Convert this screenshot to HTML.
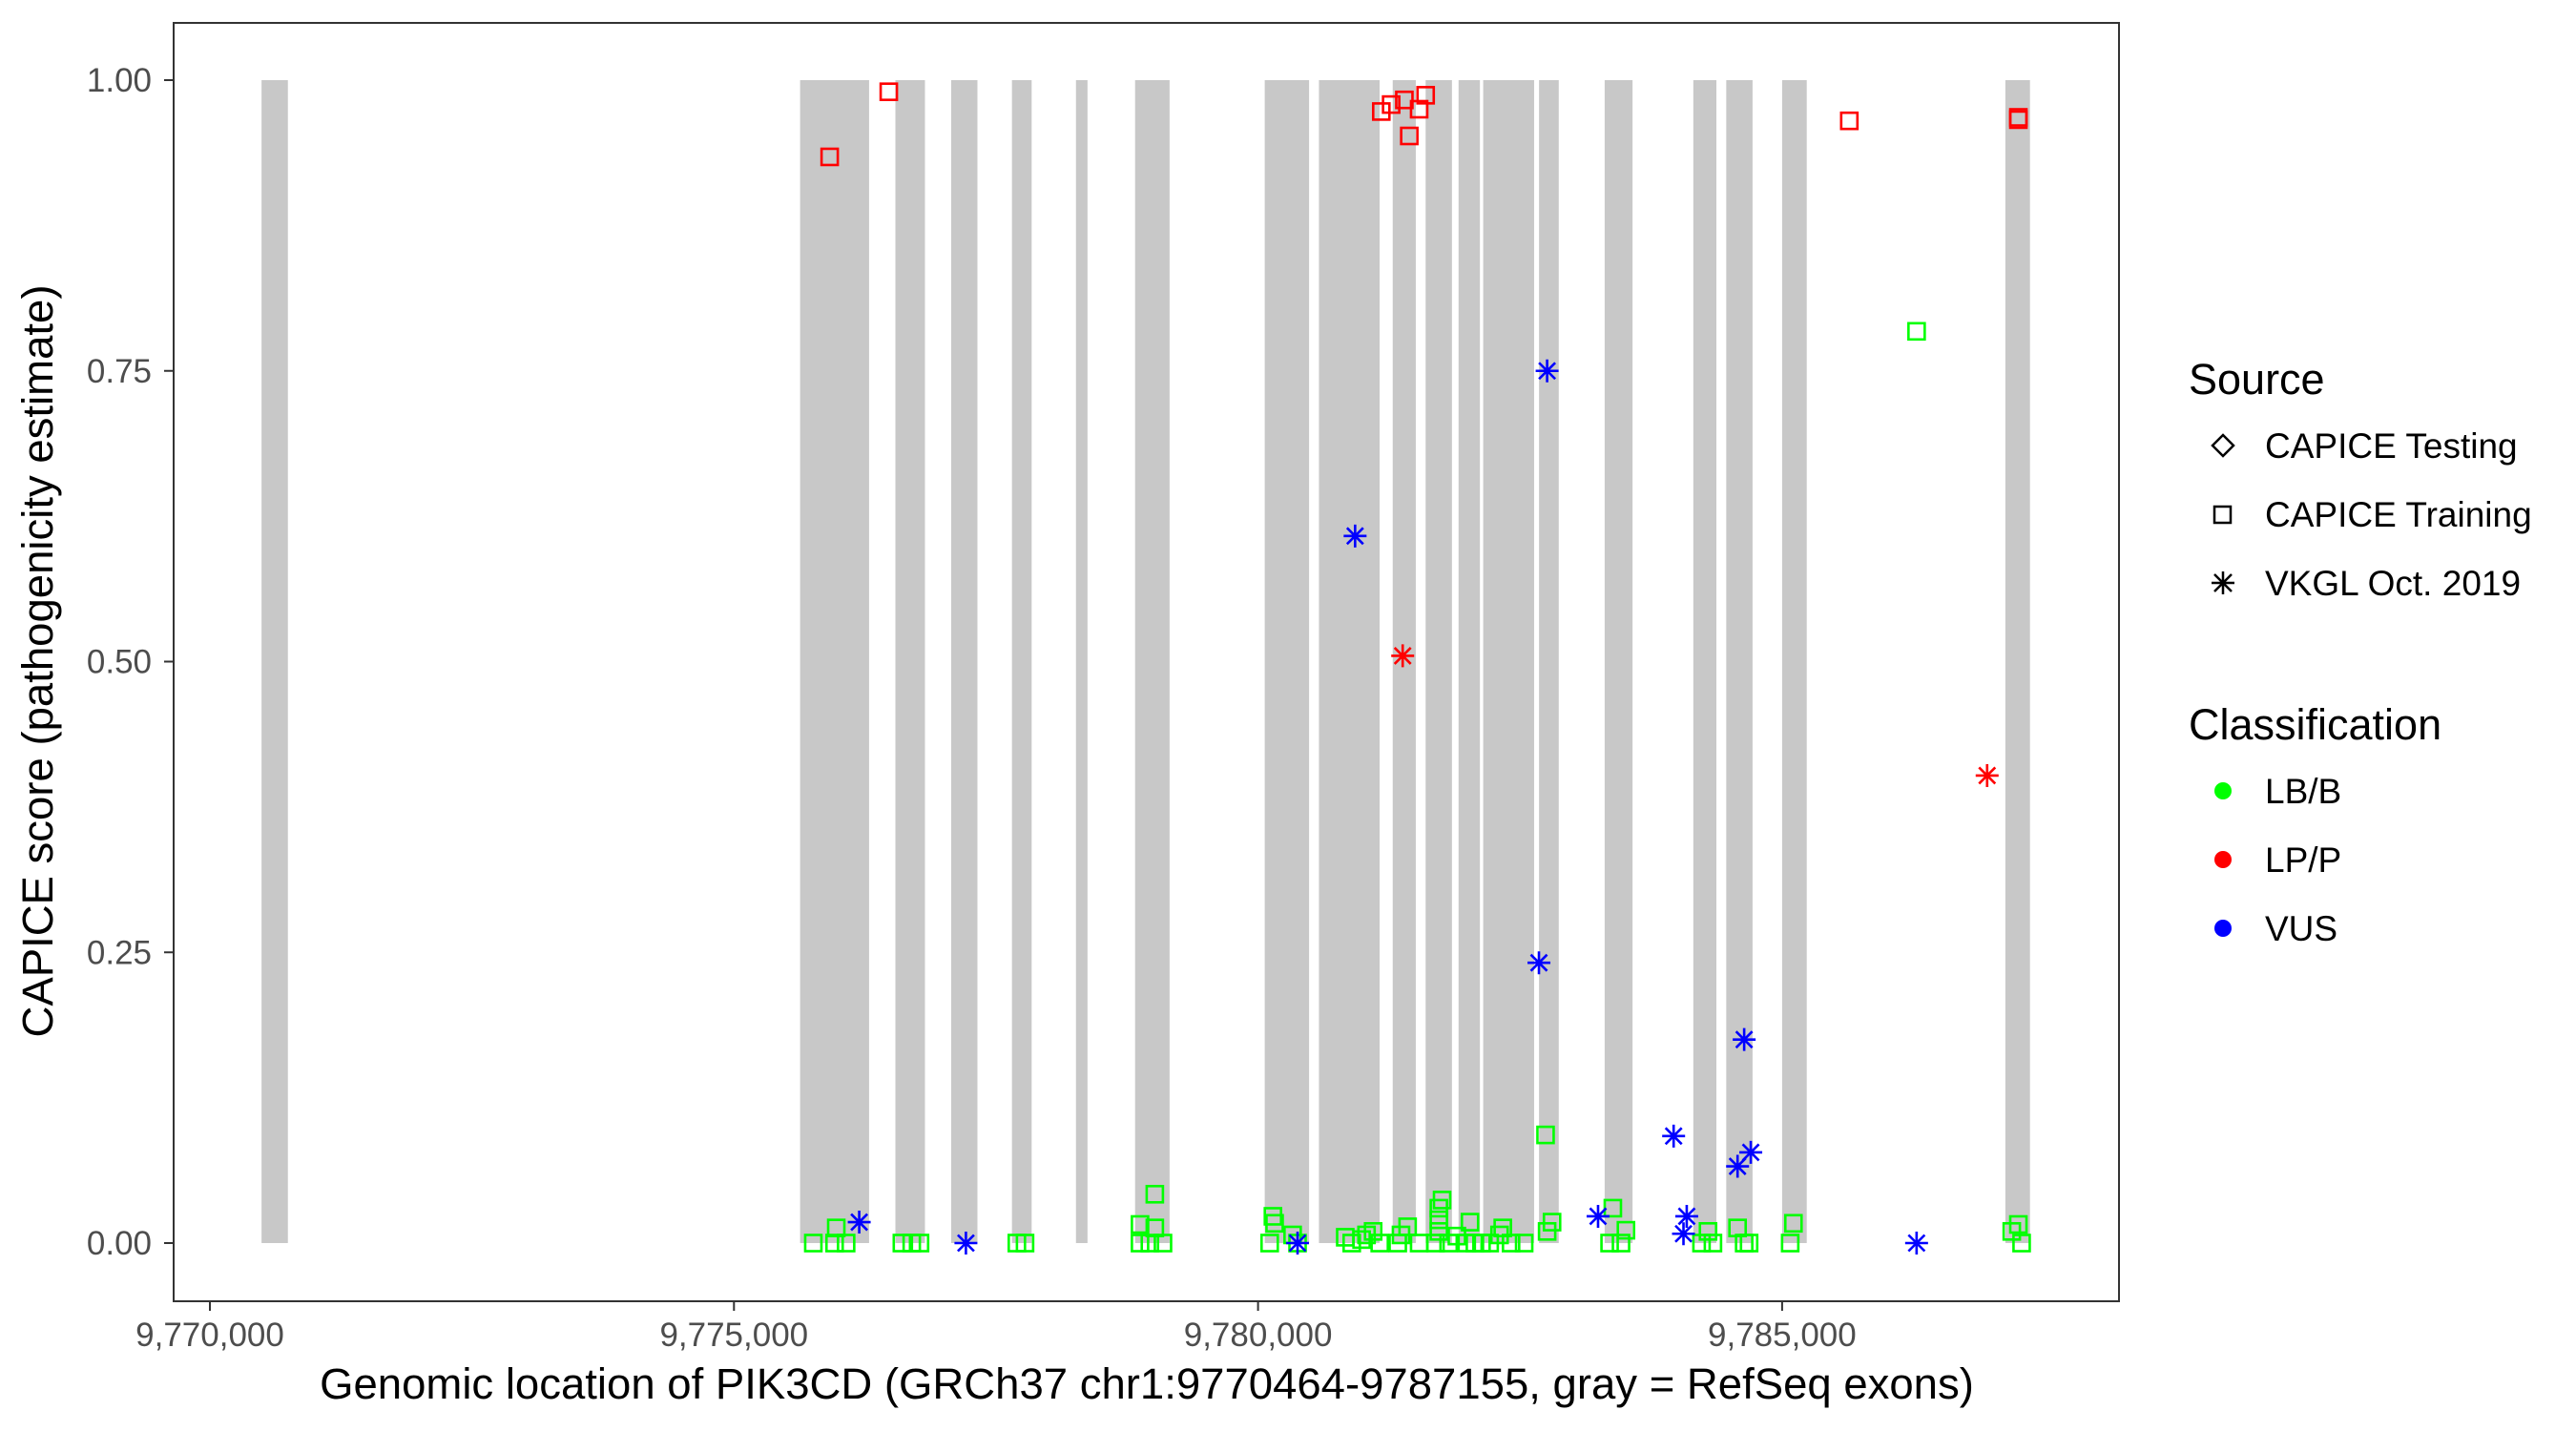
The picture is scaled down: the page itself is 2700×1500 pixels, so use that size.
<!DOCTYPE html>
<html><head><meta charset="utf-8"><style>
html,body{margin:0;padding:0;background:#fff}
svg{display:block;font-family:"Liberation Sans",Arial,sans-serif}
</style></head><body>
<svg id="chart" width="2700" height="1500" viewBox="0 0 2700 1500" xmlns="http://www.w3.org/2000/svg">
<rect x="0" y="0" width="2700" height="1500" fill="#fff"/>
<g id="exons"></g>
<g id="points"></g>
<rect x="182" y="24" width="2039" height="1340" fill="none" stroke="#333" stroke-width="2"/>
<g id="xaxis"></g>
<g id="yaxis"></g>
<text x="1202" y="1466" font-size="45.5" text-anchor="middle" fill="#000">Genomic location of PIK3CD (GRCh37 chr1:9770464-9787155, gray = RefSeq exons)</text>
<text transform="translate(55,693) rotate(-90)" font-size="45.5" text-anchor="middle" fill="#000">CAPICE score (pathogenicity estimate)</text>
<g>
<text x="2294" y="413" font-size="45" fill="#000">Source</text>
<path d="M2319,467 l11,-11 l11,11 l-11,11 z" fill="none" stroke="#000" stroke-width="2.5"/>
<text x="2374" y="480" font-size="37" fill="#000">CAPICE Testing</text>
<rect x="2321" y="531" width="17" height="17" fill="none" stroke="#000" stroke-width="2.5"/>
<path d="M2318,611 h24 M2330,599 v24 M2321,602 l18,18 M2339,602 l-18,18" stroke="#000" stroke-width="2.5"/>
<text x="2374" y="552" font-size="37" fill="#000">CAPICE Training</text>
<text x="2374" y="624" font-size="37" fill="#000">VKGL Oct. 2019</text>
</g>
<g>
<text x="2294" y="775" font-size="45" fill="#000">Classification</text>
<circle cx="2330" cy="829" r="9" fill="#00ff00"/>
<circle cx="2330" cy="901" r="9" fill="#ff0000"/>
<circle cx="2330" cy="973" r="9" fill="#0000ff"/>
<text x="2374" y="842" font-size="37" fill="#000">LB/B</text>
<text x="2374" y="914" font-size="37" fill="#000">LP/P</text>
<text x="2374" y="986" font-size="37" fill="#000">VUS</text>
</g>
</svg>
<script>
const xTicks = [9770000, 9775000, 9780000, 9785000];
const xTickLabels = ["9,770,000", "9,775,000", "9,780,000", "9,785,000"];
const yTicks = [0, 0.25, 0.5, 0.75, 1];
const yTickLabels = ["0.00", "0.25", "0.50", "0.75", "1.00"];
const exonStarts = [9770493,9775631,9776540,9777072,9777652,9778263,9778827,9780064,9780581,9781285,9781599,9781913,9782148,9782681,9783307,9784153,9784467,9785000,9787130];
const exonEnds =   [9770744,9776289,9776822,9777323,9777840,9778373,9779156,9780487,9781160,9781505,9781850,9782117,9782634,9782869,9783573,9784373,9784718,9785235,9787365];
// CAPICE Training, LP/P
const trainRedPos = [9775913,9776477,9781176,9781270,9781396,9781443,9781537,9781599,9785641,9787254,9787254];
const trainRedScore = [0.934,0.99,0.973,0.979,0.983,0.952,0.975,0.987,0.965,0.968,0.966];
// VKGL, LP/P
const vkglRedPos = [9781380, 9786956];
const vkglRedScore = [0.505, 0.402];
// VKGL, VUS
const vkglBluePos = [9776195,9777213,9780377,9780926,9782680,9782758,9783244,9783965,9784059,9784090,9784575,9784638,9784701,9786283];
const vkglBlueScore = [0.018,0.0,0.0,0.608,0.241,0.75,0.023,0.092,0.008,0.023,0.066,0.175,0.078,0.0];
// CAPICE Training, LB/B
const trainGreenPos = [9786283,9782743,9779015,9775757,9775976,9775960,9776070,9776602,9776696,9776775,9777699,9777777,9778874,9778874,9778968,9779015,9779093,9780142,9780158,9780111,9780330,9780377,9780832,9780894,9780988,9781035,9781098,9781161,9781333,9781364,9781427,9781537,9781725,9781756,9781725,9781725,9781693,9781818,9781897,9781991,9782022,9782069,9782132,9782210,9782304,9782335,9782414,9782539,9782758,9782805,9783354,9783385,9783463,9783510,9784231,9784293,9784340,9784575,9784638,9784685,9785077,9785108,9787191,9787254,9787285];
const trainGreenScore = [0.784,0.093,0.042,0,0.013,0,0,0,0,0,0,0,0.016,0,0,0.013,0,0.023,0.017,0,0.007,0,0.005,0,0.003,0.007,0.01,0,0,0.007,0.014,0,0.03,0.037,0.02,0.01,0,0,0.006,0,0.018,0,0,0,0.007,0.013,0,0,0.01,0.018,0,0.03,0,0.011,0,0.01,0,0.013,0,0,0,0.017,0.01,0.016,0];

const NS = "http://www.w3.org/2000/svg";
function sx(bp){ return 220 + (bp - 9770000) * 0.10986; }
function sy(v){ return 1303 - v * 1219; }
function mk(tag, attrs, parent){ const e = document.createElementNS(NS, tag); for (const k in attrs) e.setAttribute(k, attrs[k]); parent.appendChild(e); return e; }

const gEx = document.getElementById('exons');
exonStarts.forEach((s, i) => {
  const r = mk('rect', {x: sx(s), y: sy(1), width: sx(exonEnds[i]) - sx(s), height: sy(0) - sy(1), fill: '#c8c8c8'}, gEx);
  
  
});

const gX = document.getElementById('xaxis');
xTicks.forEach((t, i) => {
  const l = mk('line', {x1: sx(t), x2: sx(t), y1: 1364, y2: 1374, stroke: '#333', 'stroke-width': 2}, gX);
  
  
  const tx = mk('text', {x: sx(t), y: 1411, 'font-size': 35, 'text-anchor': 'middle', fill: '#4d4d4d'}, gX);
  tx.textContent = xTickLabels[i];
  
  
});
const gY = document.getElementById('yaxis');
yTicks.forEach((t, i) => {
  const l = mk('line', {x1: 172, x2: 182, y1: sy(t), y2: sy(t), stroke: '#333', 'stroke-width': 2}, gY);
  
  
  const tx = mk('text', {x: 159, y: sy(t) + 12, 'font-size': 35, 'text-anchor': 'end', fill: '#4d4d4d'}, gY);
  tx.textContent = yTickLabels[i];
  
  
});

const gP = document.getElementById('points');
function square(bp, v, col){
  const r = mk('rect', {x: sx(bp) - 8.5, y: sy(v) - 8.5, width: 17, height: 17, fill: 'none', stroke: col, 'stroke-width': 2.6}, gP);
  
  
}
function star(bp, v, col){
  const x = sx(bp), y = sy(v), d = 12, e = 8.5;
  const p = mk('path', {d: `M${x-d},${y} h${2*d} M${x},${y-d} v${2*d} M${x-e},${y-e} l${2*e},${2*e} M${x+e},${y-e} l${-2*e},${2*e}`, stroke: col, 'stroke-width': 2.6, fill: 'none'}, gP);
  
  
}
trainGreenPos.forEach((b, i) => square(b, trainGreenScore[i], '#00ff00'));
trainRedPos.forEach((b, i) => square(b, trainRedScore[i], '#ff0000'));
vkglRedPos.forEach((b, i) => star(b, vkglRedScore[i], '#ff0000'));
vkglBluePos.forEach((b, i) => star(b, vkglBlueScore[i], '#0000ff'));
</script>
</body></html>
